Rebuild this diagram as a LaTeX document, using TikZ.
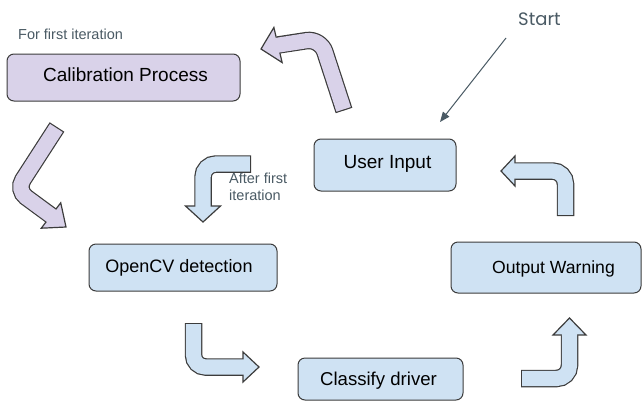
\documentclass[tikz,border=0pt]{standalone}
\usepackage{fontspec}
\setmainfont{Liberation Sans}
\newfontfamily\startfont{Poppins}
\usetikzlibrary{calc,arrows.meta}
\definecolor{lav}{HTML}{D9D2E9}
\definecolor{lblue}{HTML}{CFE2F3}
\definecolor{bord}{HTML}{3C3C3C}
\definecolor{slate}{HTML}{4A5A64}
\newcommand{\fatarrow}[7]{%
  \draw[bord, line width=17.5pt, rounded corners=#7] (#2) -- (#3) -- (#4);
  \filldraw[fill=#1, draw=bord, line width=1.2pt, line join=miter]
    ($(#4)!#6!90:(#5)$) -- (#5) -- ($(#4)!#6!-90:(#5)$) -- cycle;
  \draw[#1, line width=15.1pt, rounded corners=#7] ($(#2)!1.2pt!(#3)$) -- (#3) -- ($(#4)!1.8pt!(#5)$);
}
\begin{document}
\begin{tikzpicture}[x=1pt,y=-1pt,
  box/.style={draw=bord, line width=1pt, rounded corners=7pt, inner sep=0pt},
  lbl/.style={anchor=base, inner sep=0pt, text=black},
  note/.style={anchor=base west, inner sep=0pt, text=slate, font=\fontsize{14.5}{17}\selectfont, align=left}]
\useasboundingbox (0,0) rectangle (642,402);
% boxes
\node[box, fill=lav, minimum width=233pt, minimum height=47pt] (calib) at (123.5,77.5) {};
\node[box, fill=lblue, minimum width=142pt, minimum height=52pt] (user) at (385,165) {};
\node[box, fill=lblue, minimum width=188pt, minimum height=47pt] (opencv) at (183,267.5) {};
\node[box, fill=lblue, minimum width=190pt, minimum height=51pt] (output) at (546,267.5) {};
\node[box, fill=lblue, minimum width=165pt, minimum height=42pt] (classify) at (380.5,379) {};
% box texts
\node[lbl, font=\fontsize{19}{19}\selectfont] (calibt) at (125.5,81) {Calibration Process};
\node[lbl, font=\fontsize{19}{19}\selectfont] (usert) at (387.5,168) {User Input};
\node[lbl, font=\fontsize{18}{18}\selectfont] (opencvt) at (179,272) {OpenCV detection};
\node[lbl, font=\fontsize{17.6}{18}\selectfont] (outputt) at (553.5,273) {Output Warning};
\node[lbl, font=\fontsize{18.6}{19}\selectfont] (classifyt) at (378.5,385) {Classify driver};
% notes
\node[anchor=base, inner sep=0pt, text=slate, font=\startfont\fontsize{18}{18}\selectfont] (start) at (539.5,25) {Start};
\node[note] (forfirst) at (18,39) {For first iteration};
\node[note] (afterfirst) at (229,200) {After first\\iteration};
% start arrow
\coordinate (st1) at (506,38);
\coordinate (st2) at (440,122);
\draw[slate, line width=1pt, -{Triangle[length=10pt,width=8pt]}] (st1) -- (st2);
% block arrows
\coordinate (a1s) at (344,110.5); \coordinate (a1c) at (320.5,38.5);
\coordinate (a1b) at (278,45);    \coordinate (a1t) at (261,49);
\fatarrow{lav}{a1s}{a1c}{a1b}{a1t}{18pt}{14pt}
\coordinate (a2s) at (57,127);    \coordinate (a2c) at (16.3,190);
\coordinate (a2b) at (51,215.5);  \coordinate (a2t) at (66,227);
\fatarrow{lav}{a2s}{a2c}{a2b}{a2t}{16pt}{12pt}
\coordinate (a3s) at (251,164);   \coordinate (a3c) at (203,164);
\coordinate (a3b) at (203,206);   \coordinate (a3t) at (203,222);
\fatarrow{lblue}{a3s}{a3c}{a3b}{a3t}{17.5pt}{13pt}
\coordinate (a4s) at (193.5,323); \coordinate (a4c) at (193.5,367);
\coordinate (a4b) at (243,367);   \coordinate (a4t) at (259,367);
\fatarrow{lblue}{a4s}{a4c}{a4b}{a4t}{15pt}{12pt}
\coordinate (a5s) at (521,378.5); \coordinate (a5c) at (569.5,378.5);
\coordinate (a5b) at (569.5,335); \coordinate (a5t) at (569.5,318);
\fatarrow{lblue}{a5s}{a5c}{a5b}{a5t}{16.5pt}{13pt}
\coordinate (a6s) at (565.5,216); \coordinate (a6c) at (565.5,171);
\coordinate (a6b) at (515,171);   \coordinate (a6t) at (501,171);
\fatarrow{lblue}{a6s}{a6c}{a6b}{a6t}{15pt}{13pt}
\end{tikzpicture}
\end{document}
